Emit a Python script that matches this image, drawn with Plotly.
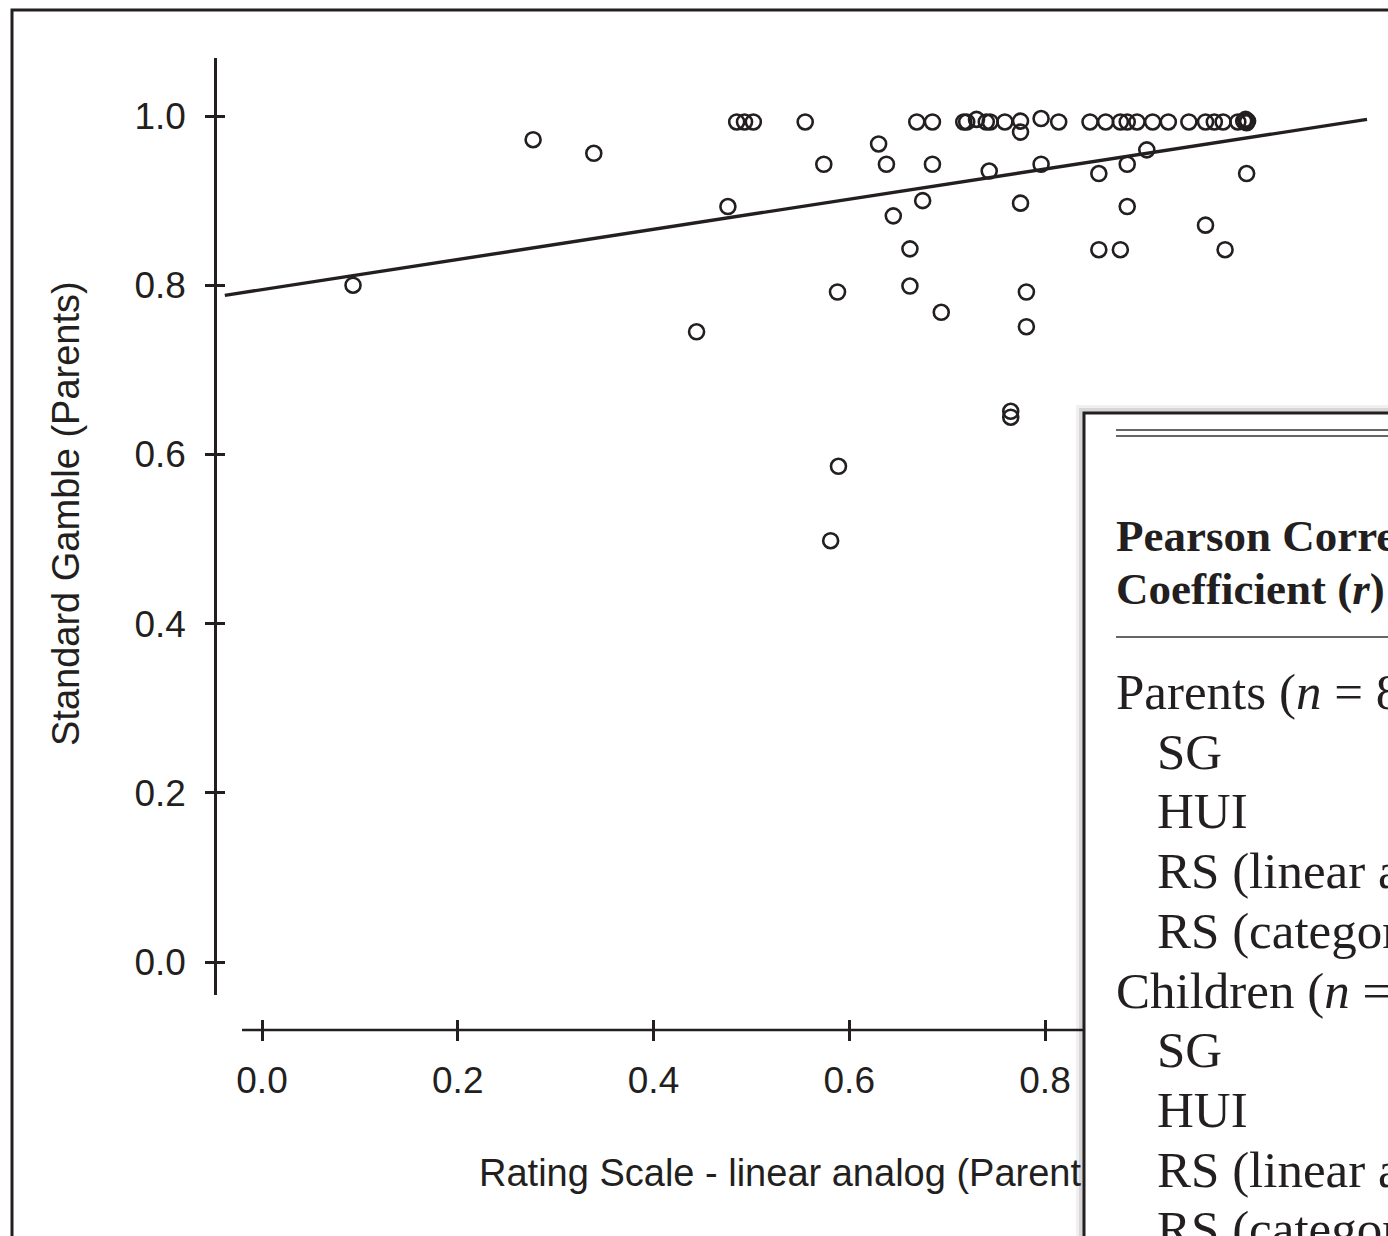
import plotly.graph_objects as go

# ---------------- data ----------------
rs_linear = [0.093, 0.277, 0.339, 0.444, 0.476, 0.485, 0.493, 0.502, 0.555, 0.574,
             0.588, 0.589, 0.581, 0.630, 0.638, 0.645, 0.662, 0.662, 0.669, 0.675,
             0.685, 0.685, 0.694, 0.717, 0.720, 0.730, 0.740, 0.744, 0.743, 0.759,
             0.765, 0.765, 0.775, 0.775, 0.775, 0.781, 0.781, 0.796, 0.796, 0.814,
             0.846, 0.855, 0.855, 0.862, 0.877, 0.877, 0.884, 0.884, 0.884, 0.894,
             0.904, 0.910, 0.926, 0.947, 0.964, 0.964, 0.973, 0.982, 0.984, 0.997,
             1.003, 1.006, 1.007, 1.005, 1.006]
sg_parents = [0.800, 0.972, 0.956, 0.745, 0.893, 0.993, 0.993, 0.993, 0.993, 0.943,
              0.792, 0.586, 0.498, 0.967, 0.943, 0.882, 0.843, 0.799, 0.993, 0.900,
              0.993, 0.943, 0.768, 0.993, 0.993, 0.996, 0.993, 0.993, 0.935, 0.993,
              0.651, 0.644, 0.994, 0.981, 0.897, 0.792, 0.751, 0.997, 0.943, 0.993,
              0.993, 0.932, 0.842, 0.993, 0.842, 0.993, 0.993, 0.943, 0.893, 0.993,
              0.960, 0.993, 0.993, 0.993, 0.993, 0.871, 0.993, 0.993, 0.842, 0.993,
              0.994, 0.932, 0.994, 0.996, 0.992]

fit_x = [-0.038, 1.129]
fit_y = [0.788, 0.996]

# x ticks visible left of the overlaid table (1.0 is hidden beneath it)
x_tick_vals = [0.0, 0.2, 0.4, 0.6, 0.8]
x_tick_text = ["0.0", "0.2", "0.4", "0.6", "0.8"]
y_tick_vals = [0.0, 0.2, 0.4, 0.6, 0.8, 1.0]
y_tick_text = ["0.0", "0.2", "0.4", "0.6", "0.8", "1.0"]

x_title = "Rating Scale - linear analog (Parent"
y_title = "Standard Gamble (Parents)"

table_header = ["<b>Pearson Correlation</b>", "<b>Coefficient (<i>r</i>)</b>"]
table_rows = [
    ("Parents (<i>n</i> = 80)", 0),
    ("SG", 1),
    ("HUI", 1),
    ("RS (linear analog)", 1),
    ("RS (category scaling)", 1),
    ("Children (<i>n</i> = 80)", 0),
    ("SG", 1),
    ("HUI", 1),
    ("RS (linear analog)", 1),
    ("RS (category scaling)", 1),
]

# ---------------- layout helpers ----------------
W, H = 1388, 1236
INK = "#231f20"
SANS = "Liberation Sans, Arial, Helvetica, sans-serif"
SERIF = "Liberation Serif, Times New Roman, serif"


def px(xp):  # page pixel -> paper fraction
    return xp / W


def py(yp):
    return 1 - yp / H


X_SCALE = 978.75
X_ZERO = 262
X_RANGE = [(0 - X_ZERO) / X_SCALE, (W - X_ZERO) / X_SCALE]
Y_RANGE = [-0.039, 1.0686]
Y_DOM = [py(995), py(58)]
X_AXIS_POS = py(1030)
Y_AXIS_POS = px(215)

fig = go.Figure()

fig.add_trace(go.Scatter(
    x=fit_x, y=fit_y, mode="lines",
    line=dict(color=INK, width=3.4), showlegend=False, hoverinfo="skip"))

fig.add_trace(go.Scatter(
    x=rs_linear, y=sg_parents, mode="markers",
    marker=dict(symbol="circle-open", size=15, color=INK, line=dict(width=2.6, color=INK)),
    showlegend=False))

axis_font = dict(family=SANS, size=37, color=INK)

fig.update_layout(
    width=W, height=H, autosize=False,
    margin=dict(l=0, r=0, t=0, b=0, pad=0),
    paper_bgcolor="white", plot_bgcolor="white",
    xaxis=dict(domain=[0, 1], range=X_RANGE, anchor="free", position=X_AXIS_POS,
               showgrid=False, zeroline=False, showline=False,
               tickmode="array", tickvals=x_tick_vals, ticktext=x_tick_text,
               ticks="outside", ticklen=10, tickwidth=2.5, tickcolor=INK,
               tickfont=axis_font, ticklabelstandoff=8),
    xaxis2=dict(overlaying="x", matches="x", anchor="free", position=X_AXIS_POS,
                showgrid=False, zeroline=False, showline=False,
                tickmode="array", tickvals=x_tick_vals, showticklabels=False,
                ticks="inside", ticklen=10, tickwidth=2.5, tickcolor=INK),
    yaxis=dict(domain=Y_DOM, range=Y_RANGE, anchor="free", position=Y_AXIS_POS,
               showgrid=False, zeroline=False, showline=True, linewidth=2.5, linecolor=INK,
               tickmode="array", tickvals=y_tick_vals, ticktext=y_tick_text,
               ticks="outside", ticklen=9, tickwidth=2.5, tickcolor=INK,
               tickfont=axis_font, ticklabelstandoff=12),
    yaxis2=dict(overlaying="y", matches="y", anchor="free", position=Y_AXIS_POS,
                showgrid=False, zeroline=False, showline=False,
                tickmode="array", tickvals=y_tick_vals, showticklabels=False,
                ticks="inside", ticklen=9, tickwidth=2.5, tickcolor=INK),
)

# dummy trace so secondary tick axes are drawn
fig.add_trace(go.Scatter(x=[None], y=[None], xaxis="x2", yaxis="y2",
                         showlegend=False, hoverinfo="skip"))

shapes = []
# outer frame
shapes.append(dict(type="rect", xref="paper", yref="paper",
                   x0=px(12), x1=1.1, y0=-0.1, y1=py(10),
                   line=dict(color=INK, width=3), fillcolor="rgba(0,0,0,0)", layer="below"))
# x-axis line
shapes.append(dict(type="line", xref="x", yref="paper",
                   x0=-0.0204, x1=1.15, y0=X_AXIS_POS, y1=X_AXIS_POS,
                   line=dict(color=INK, width=2.5), layer="above"))
# table shadow
shapes.append(dict(type="rect", xref="paper", yref="paper",
                   x0=px(1076), x1=1.1, y0=-0.1, y1=py(405),
                   line=dict(width=0), fillcolor="rgba(0,0,0,0.06)", layer="above"))
shapes.append(dict(type="rect", xref="paper", yref="paper",
                   x0=px(1079), x1=1.1, y0=-0.1, y1=py(408),
                   line=dict(width=0), fillcolor="rgba(0,0,0,0.10)", layer="above"))
# table box
shapes.append(dict(type="rect", xref="paper", yref="paper",
                   x0=px(1084), x1=1.1, y0=-0.1, y1=py(413),
                   line=dict(color=INK, width=3), fillcolor="white", layer="above"))
# rules
for yy, w, c in [(430, 1.6, "#333333"), (436, 1.6, "#333333"), (637, 1.8, "#666666")]:
    shapes.append(dict(type="line", xref="paper", yref="paper",
                       x0=px(1116), x1=1.1, y0=py(yy), y1=py(yy),
                       line=dict(color=c, width=w), layer="above"))
fig.update_layout(shapes=shapes)

ann = []
# axis titles
ann.append(dict(text=x_title, xref="paper", yref="paper", x=px(1083), y=py(1173),
                xanchor="right", yanchor="middle", showarrow=False,
                font=dict(family=SANS, size=38, color=INK)))
ann.append(dict(text=y_title, xref="paper", yref="paper", x=px(66), y=py(514),
                xanchor="center", yanchor="middle", textangle=-90, showarrow=False,
                font=dict(family=SANS, size=38, color=INK)))
# table header
for i, t in enumerate(table_header):
    ann.append(dict(text=t, xref="paper", yref="paper", x=px(1114), y=py(536 + 53 * i),
                    xanchor="left", yanchor="middle", showarrow=False,
                    font=dict(family=SERIF, size=45, color=INK)))
# table rows
for i, (t, indent) in enumerate(table_rows):
    ann.append(dict(text=t, xref="paper", yref="paper",
                    x=px(1114 + 41 * indent), y=py(692 + 59.7 * i),
                    xanchor="left", yanchor="middle", showarrow=False,
                    font=dict(family=SERIF, size=51, color=INK)))
fig.update_layout(annotations=ann)

fig.write_html(
    "out.html",
    config={"displayModeBar": False},
    post_script="document.body.style.margin='0';document.body.style.overflow='hidden';",
)
